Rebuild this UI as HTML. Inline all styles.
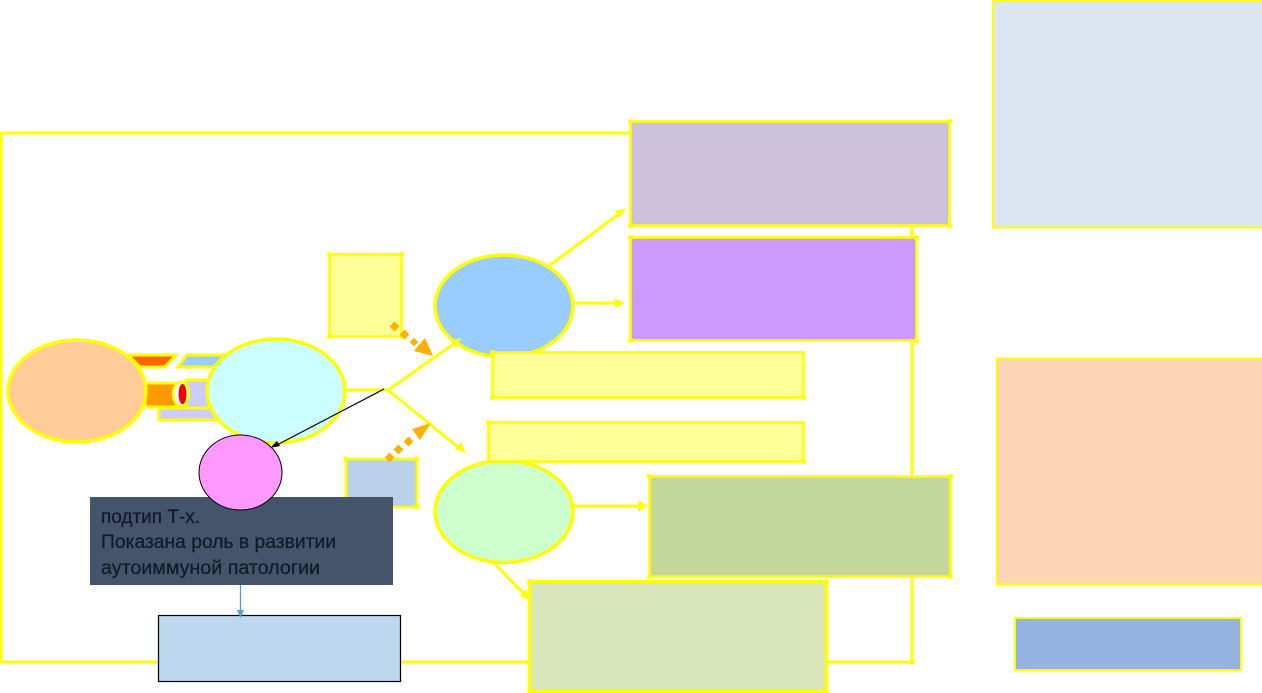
<!DOCTYPE html>
<html><head><meta charset="utf-8"><style>html,body{margin:0;padding:0;background:#fff;width:1262px;height:693px;overflow:hidden}svg{display:block}</style></head>
<body>
<svg width="1262" height="693" viewBox="0 0 1262 693" xmlns="http://www.w3.org/2000/svg">
<g fill="none" stroke="#ffff00" stroke-width="3">
<path d="M630 133H1V662H160M400 662H530M826 662H912V340M912 226V237"/>
</g>
<g stroke="#ffff00" stroke-width="3">
<polygon points="128,355 176,355 165,367 140,367" fill="#ff6600"/>
<polygon points="187,355 224,355 217,367 178,367" fill="#99ccff"/>
<rect x="186" y="380" width="30" height="28" fill="#ccccff"/>
<rect x="159" y="408" width="60" height="12" fill="#ccccff"/>
<rect x="145" y="383" width="32" height="24" rx="3" fill="#ff9900"/>
<ellipse cx="181" cy="394" rx="8" ry="12" fill="#fff" stroke-width="2.500"/>
</g>
<ellipse cx="182.500" cy="394" rx="4" ry="10" fill="#ee0000"/>
<g stroke="#ffff00" stroke-width="3.500">
<ellipse cx="77" cy="391" rx="69" ry="51" fill="#ffcc99"/>
<ellipse cx="276" cy="391" rx="69" ry="52" fill="#ccffff"/>
<ellipse cx="504" cy="306" rx="69" ry="51" fill="#99ccff"/>
<ellipse cx="504" cy="511.500" rx="69" ry="51" fill="#ccffcc"/>
</g>
<g stroke="#ffff00" stroke-width="3" fill="none">
<path d="M347 390H388L455 343"/>
<path d="M388 390L458 447"/>
<path d="M550 265L620 213"/>
<path d="M575 303H620"/>
<path d="M570 506H642"/>
<path d="M494 563L526 596"/>
</g>
<g fill="#ffff00">
<polygon points="461,338 451,341 456,348"/>
<polygon points="466,453 455,449 461,442"/>
<polygon points="626,208 615,211 620,218"/>
<polygon points="625,303 615,298 615,308"/>
<polygon points="648,506 638,500 638,512"/>
<polygon points="530,600 520,596 526,589"/>
</g>
<g stroke="#ffff00" stroke-width="2.600">
<rect x="329.500" y="254.500" width="72" height="82" fill="#ffff99"/>
<rect x="346" y="459" width="71" height="48" fill="#b9d1e9"/>
<rect x="492.500" y="352.500" width="311" height="45" fill="#ffff99"/>
<rect x="488.500" y="422.500" width="315" height="39" fill="#ffff99"/>
<rect x="630.500" y="121.500" width="319" height="104" fill="#ccc1da"/>
<rect x="630.500" y="237.500" width="286" height="103" fill="#cc99ff"/>
<rect x="649.500" y="476.500" width="301" height="100" fill="#c3d69b"/>
</g>
<rect x="529.500" y="581.500" width="297" height="110" fill="#d8e4bc" stroke="#ffff00" stroke-width="3.400"/>
<path fill="none" stroke="#ffff00" stroke-width="4.500" stroke-linecap="square" d="M329.500 254.500h0M401.500 254.500h0M329.500 336.500h0M401.500 336.500h0M346 459h0M417 459h0M417 507h0M492.500 352.500h0M492.500 397.500h0M803.500 397.500h0M488.500 422.500h0M803.500 461.500h0M630.500 121.500h0M949.500 121.500h0M630.500 225.500h0M949.500 225.500h0M630.500 237.500h0M916.500 237.500h0M630.500 340.500h0M916.500 340.500h0M649.500 476.500h0M950.500 476.500h0M649.500 576.500h0M950.500 576.500h0M529.500 581.500h0M826.500 581.500h0M529.500 691.500h0M826.500 691.500h0M912 662h0"/>
<g stroke="#ffff00" stroke-width="2">
<rect x="993" y="0.500" width="270" height="227" fill="#dce6f2"/>
<rect x="997" y="358.500" width="266" height="226" fill="#fcd5b5"/>
<rect x="1015" y="618" width="226" height="52" fill="#95b3e0"/>
</g>
<g fill="#ffb000">
<rect x="391" y="323" width="7" height="7" transform="rotate(45 394.500 326.500)"/>
<rect x="401" y="331" width="7" height="7" transform="rotate(45 404.500 334.500)"/>
<rect x="411" y="339" width="6" height="6" transform="rotate(45 414 342)"/>
<polygon points="433,356 414,351 425,338"/>
<rect x="386" y="454" width="7" height="7" transform="rotate(45 389.500 457.500)"/>
<rect x="395" y="446" width="7" height="7" transform="rotate(45 398.500 449.500)"/>
<rect x="405" y="438" width="7" height="7" transform="rotate(45 408.500 441.500)"/>
<polygon points="431,423 420,440 412,429"/>
</g>
<rect x="90" y="497" width="303" height="88" fill="#44546a"/>
<ellipse cx="240.500" cy="472.500" rx="41.500" ry="37.500" fill="#ff99ff" stroke="#000" stroke-width="1"/>
<path d="M384 389L275 446" stroke="#000" stroke-width="1.200" fill="none"/>
<polygon points="270,448 277,441 280,446" fill="#000"/>
<g font-family="'Liberation Sans','Noto Sans CJK SC',sans-serif" font-size="19" fill="#111a28" stroke="#111a28" stroke-width="0.250">
<text x="101" y="523" textLength="99" lengthAdjust="spacingAndGlyphs">подтип Т-х.</text>
<text x="101" y="548" textLength="235" lengthAdjust="spacingAndGlyphs">Показана роль в развитии</text>
<text x="101" y="574" textLength="219" lengthAdjust="spacingAndGlyphs">аутоиммуной патологии</text>
</g>
<rect x="158.500" y="615.500" width="242" height="66" fill="#bdd7ee" stroke="#000" stroke-width="1.200"/>
<path d="M240.500 585V612" stroke="#5b9bd5" stroke-width="1.300"/>
<polygon points="237,610 244,610 240.500,618" fill="#5b9bd5"/>
</svg>
</body></html>
